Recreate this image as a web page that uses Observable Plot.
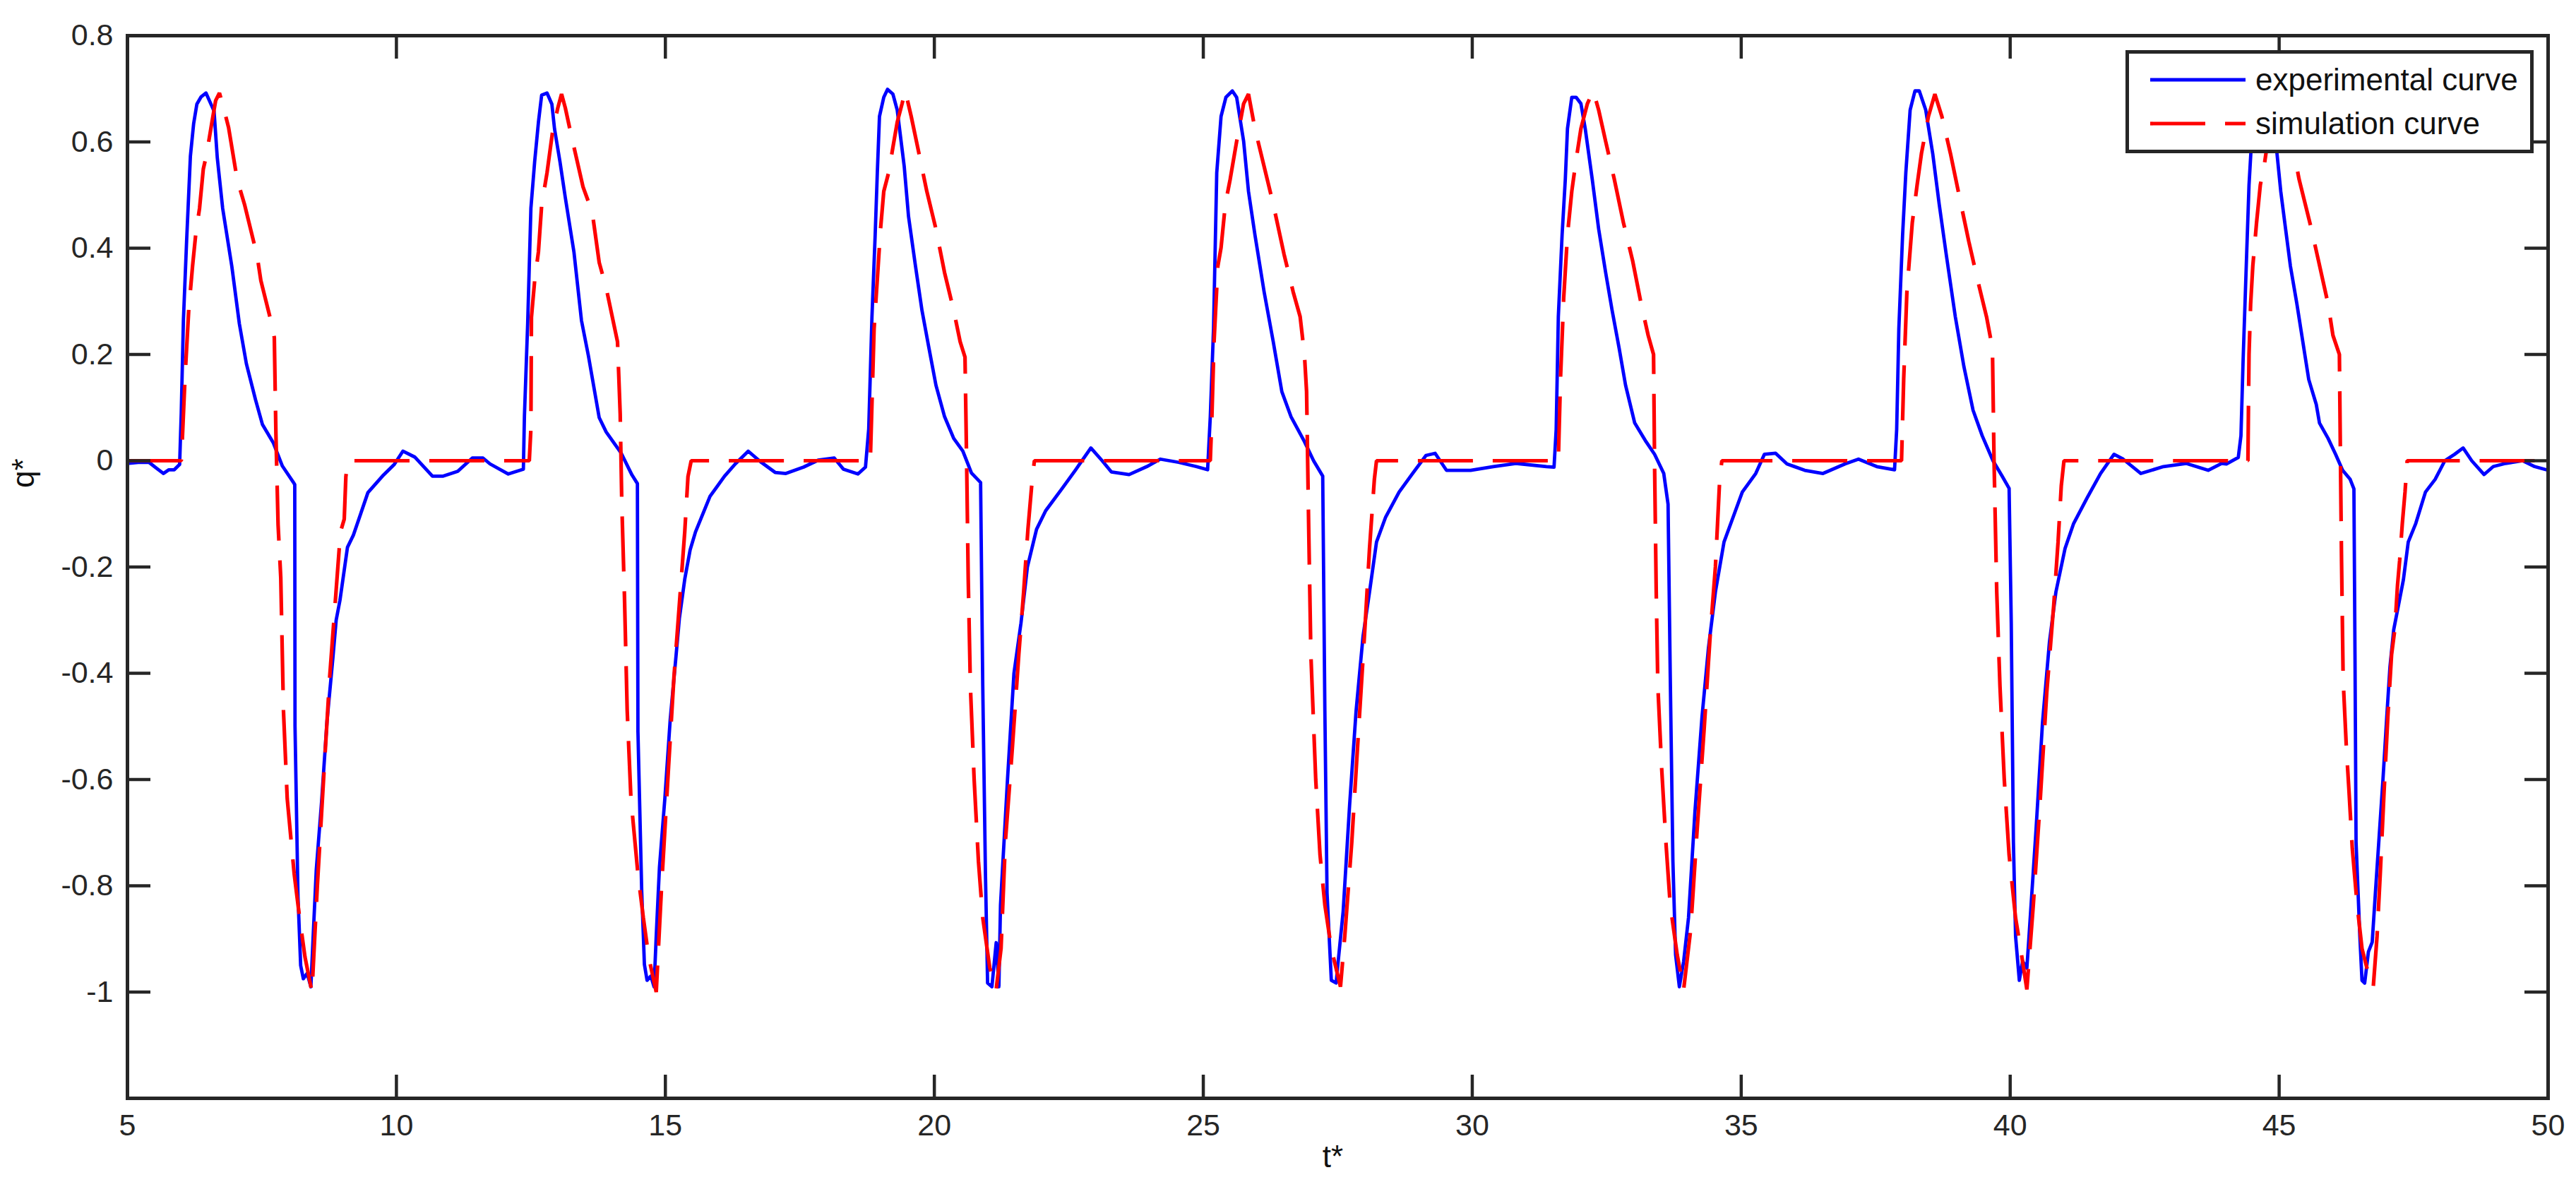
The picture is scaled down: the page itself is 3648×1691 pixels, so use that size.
<!DOCTYPE html>
<html><head><meta charset="utf-8">
<script src="https://cdn.jsdelivr.net/npm/d3@7"></script>
<script src="https://cdn.jsdelivr.net/npm/@observablehq/plot@0.6"></script>
<style>
html,body{margin:0;padding:0;background:#fff;}
#wrap{position:relative;width:3648px;height:1691px;overflow:hidden;}
#legend{position:absolute;left:3010px;top:71px;}
</style></head><body>
<div id="wrap"><div id="chart"></div><svg id="legend" width="578" height="146"></svg></div>
<script>
// ---- data ----
const xTicks = [5, 10, 15, 20, 25, 30, 35, 40, 45, 50];
const yTicks = [-1, -0.8, -0.6, -0.4, -0.2, 0, 0.2, 0.4, 0.6, 0.8];
const xLabel = "t*";
const yLabel = "q*";
const seriesNames = ["experimental curve", "simulation curve"];

// experimental curve [t*, q*]
const expPoints = [
 [5.0,-0.005],[5.2,-0.003],[5.4,-0.003],[5.54,-0.014],[5.67,-0.024],[5.77,-0.017],[5.87,-0.017],[5.97,-0.007],
 [6.0,0.09],[6.04,0.264],[6.1,0.414],[6.17,0.573],[6.23,0.634],[6.29,0.671],[6.37,0.685],[6.46,0.692],[6.61,0.658],[6.67,0.57],
 [6.77,0.475],[6.94,0.366],[7.08,0.258],[7.21,0.183],[7.38,0.115],[7.51,0.068],[7.71,0.034],[7.88,-0.01],[8.08,-0.04],[8.11,-0.045],
 [8.115,-0.5],[8.17,-0.82],[8.22,-0.95],[8.27,-0.975],[8.34,-0.965],[8.41,-0.99],[8.45,-0.9],[8.51,-0.77],[8.61,-0.64],[8.71,-0.49],
 [8.82,-0.37],[8.88,-0.3],[8.95,-0.263],[9.09,-0.163],[9.2,-0.14],[9.47,-0.06],[9.74,-0.029],[9.96,-0.007],[10.12,0.018],[10.34,0.007],
 [10.67,-0.029],[10.87,-0.029],[11.14,-0.02],[11.41,0.005],[11.61,0.005],[11.74,-0.006],[12.08,-0.025],[12.36,-0.016],
 [12.38,0.085],[12.44,0.258],[12.5,0.475],[12.57,0.563],[12.64,0.637],[12.7,0.688],[12.8,0.692],[12.89,0.671],[12.94,0.624],[13.04,0.563],
 [13.14,0.495],[13.3,0.393],[13.44,0.264],[13.57,0.197],[13.77,0.081],[13.9,0.054],[14.18,0.014],[14.38,-0.027],[14.48,-0.043],
 [14.49,-0.51],[14.56,-0.81],[14.61,-0.948],[14.66,-0.978],[14.73,-0.97],[14.79,-0.99],[14.83,-0.894],[14.89,-0.765],[14.99,-0.636],[15.09,-0.487],
 [15.2,-0.365],[15.26,-0.297],[15.36,-0.223],[15.46,-0.168],[15.56,-0.134],[15.83,-0.067],[16.1,-0.029],[16.3,-0.006],[16.54,0.018],[16.77,-0.002],
 [17.04,-0.022],[17.24,-0.024],[17.57,-0.012],[17.84,0.001],[18.14,0.005],[18.31,-0.016],[18.58,-0.025],[18.72,-0.012],
 [18.78,0.06],[18.84,0.27],[18.9,0.425],[18.94,0.542],[18.98,0.648],[19.06,0.684],[19.13,0.699],[19.23,0.69],[19.31,0.66],[19.44,0.554],
 [19.52,0.46],[19.65,0.366],[19.77,0.283],[19.9,0.212],[20.03,0.142],[20.19,0.083],[20.36,0.042],[20.53,0.018],[20.69,-0.023],[20.86,-0.041],
 [20.9,-0.424],[20.95,-0.777],[20.99,-0.983],[21.07,-0.99],[21.15,-0.907],[21.2,-0.99],[21.23,-0.836],[21.36,-0.6],[21.48,-0.4],[21.61,-0.306],
 [21.73,-0.2],[21.9,-0.129],[22.07,-0.094],[22.37,-0.053],[22.62,-0.018],[22.91,0.024],[23.12,0.0],[23.29,-0.021],[23.62,-0.026],[23.95,-0.011],
 [24.2,0.003],[24.54,-0.003],[24.87,-0.011],[25.08,-0.017],
 [25.13,0.083],[25.19,0.248],[25.25,0.542],[25.33,0.648],[25.42,0.684],[25.54,0.696],[25.62,0.684],[25.75,0.601],[25.84,0.507],[25.96,0.425],
 [26.13,0.318],[26.3,0.224],[26.46,0.13],[26.63,0.083],[26.88,0.036],[27.05,0.0],[27.22,-0.029],
 [27.26,-0.471],[27.3,-0.813],[27.38,-0.978],[27.47,-0.983],[27.5,-0.95],[27.6,-0.848],[27.72,-0.648],[27.84,-0.471],[27.97,-0.33],[28.09,-0.247],
 [28.22,-0.153],[28.39,-0.106],[28.64,-0.059],[28.89,-0.024],[29.14,0.01],[29.31,0.014],[29.52,-0.018],[29.97,-0.018],[30.39,-0.011],[30.81,-0.005],
 [31.38,-0.011],[31.52,-0.012],
 [31.56,0.059],[31.6,0.271],[31.67,0.425],[31.73,0.53],[31.77,0.625],[31.85,0.684],[31.93,0.684],[32.02,0.672],[32.1,0.625],[32.23,0.53],
 [32.35,0.436],[32.48,0.354],[32.6,0.283],[32.73,0.212],[32.85,0.142],[33.02,0.071],[33.23,0.036],[33.39,0.012],[33.56,-0.024],[33.64,-0.082],
 [33.68,-0.4],[33.73,-0.754],[33.78,-0.93],[33.85,-0.99],[33.93,-0.942],[34.02,-0.86],[34.14,-0.66],[34.27,-0.483],[34.39,-0.353],[34.52,-0.247],
 [34.68,-0.153],[34.85,-0.106],[35.02,-0.059],[35.27,-0.024],[35.43,0.012],[35.64,0.014],[35.85,-0.006],[36.18,-0.018],[36.52,-0.024],[36.93,-0.006],
 [37.18,0.003],[37.52,-0.011],[37.85,-0.017],
 [37.89,0.059],[37.93,0.248],[38.0,0.425],[38.06,0.542],[38.14,0.66],[38.23,0.696],[38.31,0.696],[38.43,0.66],[38.56,0.578],[38.68,0.483],
 [38.81,0.389],[38.98,0.271],[39.14,0.177],[39.31,0.095],[39.48,0.047],[39.68,0.0],[39.85,-0.029],[39.98,-0.052],
 [40.02,-0.306],[40.06,-0.718],[40.1,-0.895],[40.17,-0.978],[40.23,-0.942],[40.31,-0.955],[40.35,-0.895],[40.48,-0.695],[40.6,-0.494],[40.73,-0.341],
 [40.85,-0.247],[41.02,-0.165],[41.18,-0.118],[41.43,-0.07],[41.68,-0.024],[41.93,0.012],[42.1,0.003],[42.43,-0.024],[42.85,-0.011],[43.27,-0.005],
 [43.68,-0.018],[43.93,-0.005],[44.02,-0.006],[44.24,0.006],
 [44.29,0.047],[44.33,0.189],[44.4,0.401],[44.44,0.519],[44.52,0.66],[44.63,0.696],[44.71,0.69],[44.83,0.65],[44.96,0.578],[45.03,0.507],
 [45.12,0.436],[45.21,0.366],[45.33,0.295],[45.44,0.224],[45.55,0.153],[45.69,0.106],[45.75,0.071],[45.91,0.042],[46.05,0.012],[46.18,-0.018],
 [46.32,-0.035],[46.39,-0.053],
 [46.41,-0.365],[46.43,-0.718],[46.5,-0.895],[46.54,-0.978],[46.59,-0.983],[46.66,-0.924],[46.73,-0.906],[46.79,-0.812],[46.86,-0.706],[46.93,-0.6],
 [47.0,-0.483],[47.06,-0.388],[47.13,-0.318],[47.22,-0.271],[47.31,-0.224],[47.4,-0.153],[47.54,-0.118],[47.72,-0.059],[47.9,-0.035],[48.08,0.0],
 [48.26,0.012],[48.42,0.024],[48.58,0.0],[48.81,-0.026],[48.98,-0.011],[49.21,-0.005],[49.53,0.0],[49.75,-0.011],[50.0,-0.018]
];

// simulation curve [t*, q*]
const simPoints = [
 [5.0,0],[6.0,0],
 [6.02,0.04],[6.07,0.156],[6.14,0.285],[6.21,0.366],[6.27,0.427],[6.34,0.475],[6.41,0.549],[6.47,0.576],[6.57,0.637],[6.64,0.678],
 [6.71,0.692],[6.77,0.671],[6.88,0.627],[7.04,0.529],[7.18,0.481],[7.41,0.386],[7.48,0.339],[7.68,0.258],[7.73,0.232],
 [7.76,0.05],[7.8,-0.12],[7.85,-0.22],[7.9,-0.47],[7.97,-0.636],[8.1,-0.778],[8.2,-0.86],[8.3,-0.934],[8.43,-1.0],[8.53,-0.8],
 [8.66,-0.575],[8.76,-0.406],[8.86,-0.27],[8.96,-0.134],[9.03,-0.11],[9.06,-0.03],[9.1,0],
 [12.47,0],
 [12.5,0.06],[12.51,0.27],[12.57,0.339],[12.64,0.393],[12.7,0.481],[12.8,0.542],[12.9,0.617],[13.0,0.664],[13.07,0.69],[13.14,0.664],
 [13.24,0.617],[13.47,0.515],[13.64,0.468],[13.77,0.373],[13.9,0.325],[14.11,0.224],[14.16,0.088],[14.19,-0.081],[14.24,-0.258],[14.29,-0.47],
 [14.36,-0.636],[14.49,-0.778],[14.59,-0.86],[14.69,-0.934],[14.83,-1.0],[14.93,-0.8],[15.06,-0.575],[15.16,-0.406],[15.26,-0.27],[15.36,-0.134],
 [15.42,-0.03],[15.48,0],
 [18.81,0],
 [18.84,0.106],[18.88,0.248],[18.94,0.342],[19.0,0.436],[19.06,0.507],[19.15,0.542],[19.23,0.59],[19.31,0.637],[19.4,0.672],[19.46,0.696],
 [19.57,0.648],[19.69,0.59],[19.86,0.507],[20.03,0.436],[20.19,0.354],[20.36,0.283],[20.48,0.224],[20.57,0.195],[20.6,0.0],[20.63,-0.223],
 [20.67,-0.424],[20.74,-0.6],[20.82,-0.754],[20.9,-0.86],[21.03,-0.954],[21.15,-0.995],[21.24,-0.918],[21.32,-0.718],[21.45,-0.541],[21.57,-0.365],
 [21.66,-0.247],[21.74,-0.129],[21.82,-0.035],[21.86,0],
 [25.13,0],
 [25.16,0.083],[25.2,0.224],[25.27,0.366],[25.33,0.401],[25.41,0.483],[25.5,0.53],[25.62,0.601],[25.75,0.672],[25.84,0.69],[25.96,0.625],
 [26.13,0.554],[26.3,0.483],[26.5,0.389],[26.67,0.318],[26.8,0.271],[26.88,0.2],[26.92,0.13],[26.96,-0.13],[27.0,-0.365],[27.09,-0.6],
 [27.17,-0.742],[27.26,-0.836],[27.38,-0.918],[27.55,-0.99],[27.63,-0.895],[27.76,-0.718],[27.88,-0.518],[28.01,-0.306],[28.09,-0.165],[28.18,-0.035],
 [28.22,0],
 [31.6,0],
 [31.64,0.153],[31.7,0.307],[31.77,0.425],[31.85,0.507],[31.93,0.566],[32.02,0.625],[32.14,0.672],[32.25,0.696],[32.35,0.66],[32.48,0.601],
 [32.64,0.53],[32.81,0.448],[32.98,0.377],[33.14,0.295],[33.27,0.236],[33.37,0.2],[33.39,-0.012],[33.42,-0.247],[33.45,-0.424],[33.52,-0.577],
 [33.6,-0.718],[33.68,-0.836],[33.81,-0.93],[33.93,-0.995],[34.06,-0.883],[34.18,-0.695],[34.31,-0.506],[34.43,-0.318],[34.52,-0.2],[34.56,-0.118],
 [34.6,-0.035],[34.64,0],
 [37.98,0],
 [38.02,0.153],[38.08,0.318],[38.18,0.448],[38.27,0.519],[38.35,0.578],[38.48,0.648],[38.6,0.69],[38.73,0.648],[38.89,0.578],[39.06,0.495],
 [39.23,0.413],[39.39,0.342],[39.56,0.271],[39.67,0.212],[39.7,0.0],[39.75,-0.247],[39.81,-0.424],[39.89,-0.6],[39.98,-0.742],[40.1,-0.86],
 [40.23,-0.942],[40.31,-0.995],[40.43,-0.836],[40.56,-0.636],[40.68,-0.436],[40.81,-0.271],[40.89,-0.153],[40.95,-0.047],[41.0,0],
 [44.42,0],
 [44.43,0.106],[44.44,0.2],[44.47,0.295],[44.51,0.366],[44.58,0.448],[44.65,0.519],[44.72,0.554],[44.8,0.61],[44.9,0.66],[45.0,0.69],
 [45.1,0.66],[45.2,0.61],[45.28,0.578],[45.37,0.53],[45.6,0.436],[45.73,0.377],[45.91,0.295],[46.0,0.236],[46.12,0.2],[46.14,0.0],
 [46.16,-0.188],[46.19,-0.412],[46.25,-0.541],[46.3,-0.624],[46.36,-0.73],[46.45,-0.836],[46.54,-0.918],[46.63,-0.954],[46.75,-0.99],[46.82,-0.895],
 [46.88,-0.777],[46.95,-0.624],[47.02,-0.483],[47.09,-0.365],[47.15,-0.318],[47.2,-0.235],[47.24,-0.188],[47.29,-0.118],[47.34,-0.059],[47.38,0],
 [50.0,0]
];

// ---- layout / style ----
const W = 3648, H = 1691, ML = 180, MR = 40, MT = 50, MB = 136;
const PW = W - ML - MR, PH = H - MT - MB, TICK = 33;
const INK = "#262626";
const BLUE = "#0000ff", RED = "#ff0000", DASH = "78,28";
const FONT = "'Liberation Sans', Arial, Helvetica, sans-serif";
const fmt = d => String(d);
const rows = pts => pts.map(([t, q]) => ({t, q}));

const chart = Plot.plot({
  width: W, height: H,
  marginLeft: ML, marginRight: MR, marginTop: MT, marginBottom: MB,
  style: {background: "#fff", color: INK, fontFamily: FONT, fontSize: "43px"},
  x: {domain: [5, 50], label: null},
  y: {domain: [-1.2, 0.8], label: null},
  marks: [
    Plot.line(rows(expPoints), {x: "t", y: "q", stroke: BLUE, strokeWidth: 4.8, strokeLinejoin: "round", strokeLinecap: "butt"}),
    Plot.line(rows(simPoints), {x: "t", y: "q", stroke: RED, strokeWidth: 5.2, strokeDasharray: DASH, strokeLinecap: "butt", strokeLinejoin: "miter"}),
    Plot.tickX(xTicks, {x: d => d, insetTop: PH - TICK, stroke: INK, strokeWidth: 4.5}),
    Plot.tickX(xTicks, {x: d => d, insetBottom: PH - TICK, stroke: INK, strokeWidth: 4.5}),
    Plot.tickY(yTicks, {y: d => d, insetRight: PW - TICK, stroke: INK, strokeWidth: 4.5}),
    Plot.tickY(yTicks, {y: d => d, insetLeft: PW - TICK, stroke: INK, strokeWidth: 4.5}),
    Plot.frame({stroke: INK, strokeWidth: 5}),
    Plot.axisX(xTicks, {tickSize: 0, tickPadding: 22, tickFormat: fmt, label: null}),
    Plot.axisY(yTicks, {tickSize: 0, tickPadding: 20, tickFormat: fmt, label: null}),
    Plot.text([xLabel], {text: d => d, frameAnchor: "bottom", dy: 97, dx: -7, fontSize: 44, fill: "#111"}),
    Plot.text([yLabel], {text: d => d, frameAnchor: "left", dx: -147, dy: -112, rotate: -90, fontSize: 44, fill: "#111"})
  ]
});
document.getElementById("chart").appendChild(chart);

// ---- legend (inside the axes, top-right) ----
const lg = d3.select("#legend");
lg.append("rect").attr("x", 2.5).attr("y", 2.5).attr("width", 573).attr("height", 141)
  .attr("fill", "#fff").attr("stroke", INK).attr("stroke-width", 5);
const legendRows = [
  {name: seriesNames[0], color: BLUE, dash: null, y: 42},
  {name: seriesNames[1], color: RED, dash: DASH, y: 104}
];
for (const r of legendRows) {
  lg.append("line").attr("x1", 35).attr("x2", 170).attr("y1", r.y).attr("y2", r.y)
    .attr("stroke", r.color).attr("stroke-width", r.dash ? 5.2 : 4.8)
    .attr("stroke-dasharray", r.dash);
  lg.append("text").attr("x", 184).attr("y", r.y).attr("dy", "0.35em")
    .attr("font-family", FONT).attr("font-size", 44).attr("fill", "#111").text(r.name);
}
</script>
</body></html>
